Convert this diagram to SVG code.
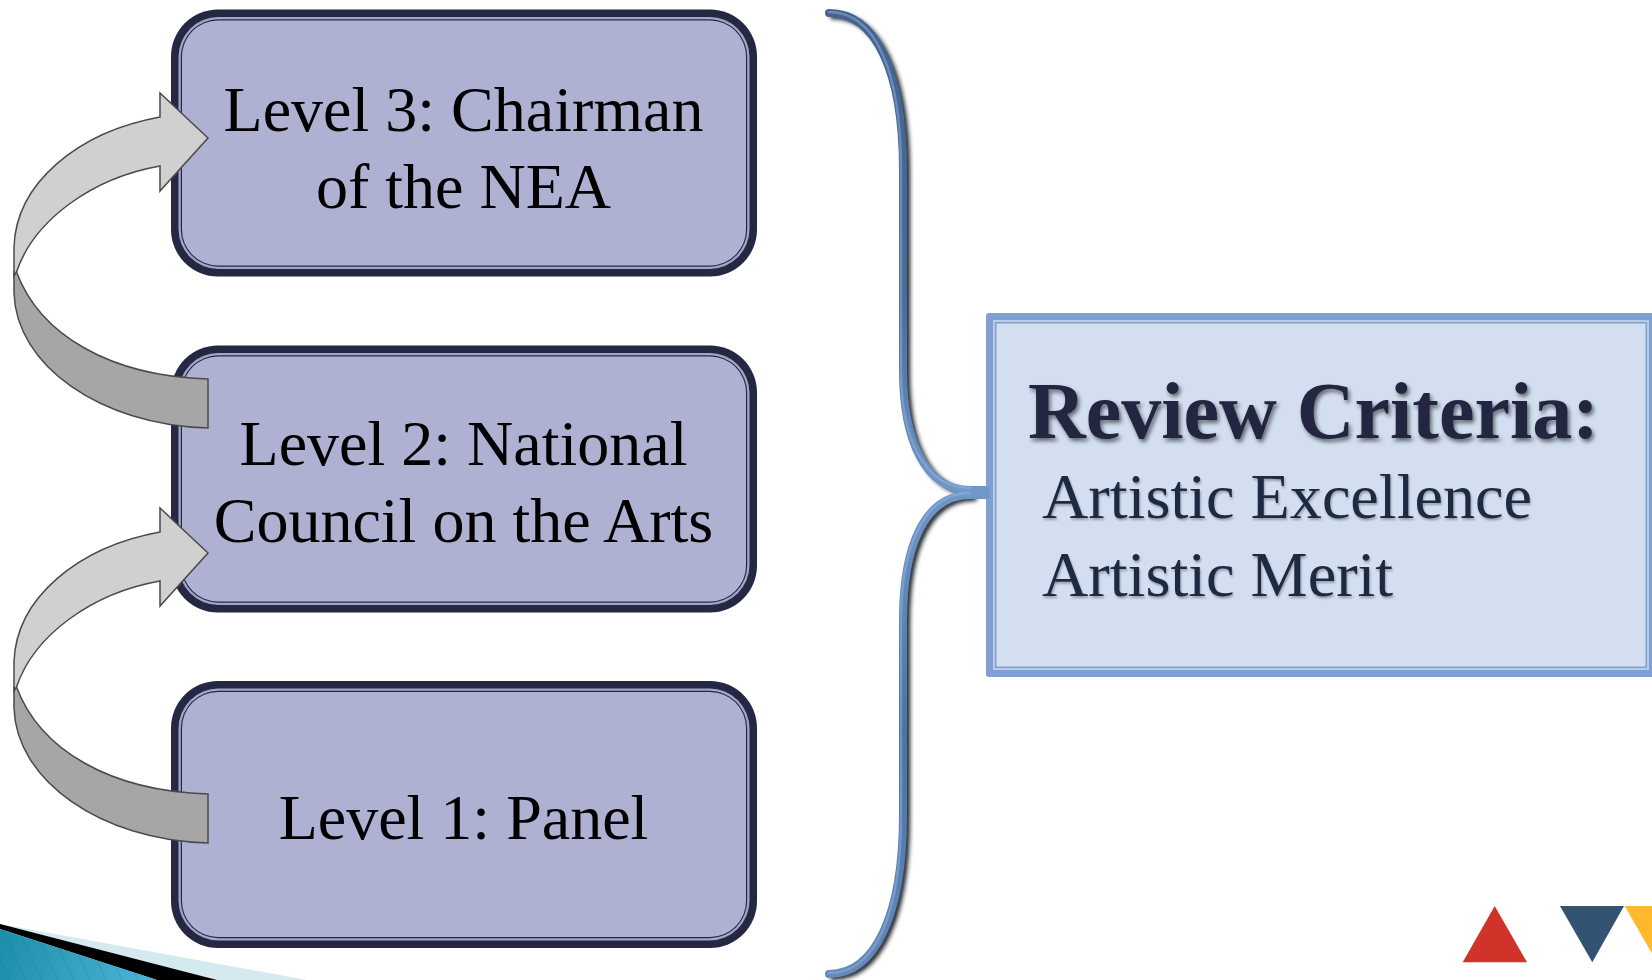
<svg xmlns="http://www.w3.org/2000/svg" width="1652" height="980" viewBox="0 0 1652 980">
<style>
text{font-family:"Liberation Serif","Times New Roman",serif;}
.lbl{font-size:64px;fill:#000;text-anchor:middle;}
.b0{fill:#262843;}
.b1{fill:#a3a6cc;}
.b2{fill:#262843;}
.b3{fill:#aeb1d1;}
.au{fill:#d0d0d0;stroke:#4a4a4a;stroke-width:1.5;}
.al{fill:#a6a6a6;stroke:#4a4a4a;stroke-width:1.5;}
.title{font-size:80px;font-weight:bold;fill:#24263f;filter:url(#ts);}
.crit{font-size:64.2px;fill:#1c2a42;filter:url(#ts2);}
.bs{fill:none;stroke:#141a24;stroke-width:6;filter:url(#bl);stroke-linecap:round;}
.bm{fill:none;stroke-width:8;stroke-linecap:round;}
.bh{fill:none;stroke-width:2.5;stroke-linecap:round;opacity:.45;}
</style>
<defs>
<filter id="ts" x="-5%" y="-20%" width="110%" height="140%"><feDropShadow dx="2" dy="3" stdDeviation="2" flood-color="#000" flood-opacity=".55"/></filter>
<filter id="ts2" x="-5%" y="-20%" width="110%" height="140%"><feDropShadow dx="1" dy="2" stdDeviation="1" flood-color="#000" flood-opacity=".3"/></filter>
<filter id="bl" x="-30%" y="-10%" width="160%" height="120%"><feGaussianBlur stdDeviation="2"/></filter>
<linearGradient id="gu" gradientUnits="userSpaceOnUse" x1="0" y1="10" x2="0" y2="492"><stop offset="0" stop-color="#42648f"/><stop offset=".6" stop-color="#476c9b"/><stop offset="1" stop-color="#6f97c9"/></linearGradient>
<linearGradient id="gd" gradientUnits="userSpaceOnUse" x1="0" y1="492" x2="0" y2="976"><stop offset="0" stop-color="#6f97c9"/><stop offset=".5" stop-color="#4a72a6"/><stop offset="1" stop-color="#6389bb"/></linearGradient>
<linearGradient id="teal" gradientUnits="userSpaceOnUse" x1="0" y1="940" x2="160" y2="980"><stop offset="0" stop-color="#1d8fa9"/><stop offset="1" stop-color="#4eb6da"/></linearGradient>
<pattern id="stripe" patternUnits="userSpaceOnUse" width="16" height="40" patternTransform="skewX(25)"><line x1="1" y1="0" x2="1" y2="40" stroke="#0f6f8c" stroke-width="1" opacity=".3"/></pattern>
</defs>
<rect width="1652" height="980" fill="#fff"/>
<g id="corner">
<polygon points="0,924 307,980 0,980" fill="#d5e9f1"/>
<polygon points="0,924 217,980 157,980 0,929" fill="#000"/>
<polygon points="0,929 157,980 0,980" fill="url(#teal)"/>
<polygon points="0,929 157,980 0,980" fill="url(#stripe)"/>
</g>
<g id="level3">
<rect class="b0" x="171" y="9.5" width="586" height="267" rx="47"/>
<rect class="b1" x="178.5" y="17" width="571" height="252" rx="40"/>
<rect class="b2" x="180.8" y="19.3" width="566.4" height="247.4" rx="37.5"/>
<rect class="b3" x="182" y="20.5" width="564" height="245" rx="36"/>
<text class="lbl" x="463.5" y="130.5">Level 3: Chairman</text>
<text class="lbl" x="463.5" y="207.5">of the NEA</text>
</g>
<g id="level2">
<rect class="b0" x="171" y="345.5" width="586" height="267" rx="47"/>
<rect class="b1" x="178.5" y="353" width="571" height="252" rx="40"/>
<rect class="b2" x="180.8" y="355.3" width="566.4" height="247.4" rx="37.5"/>
<rect class="b3" x="182" y="356.5" width="564" height="245" rx="36"/>
<text class="lbl" x="463.5" y="464.5">Level 2: National</text>
<text class="lbl" x="463.5" y="541.5">Council on the Arts</text>
</g>
<g id="level1">
<rect class="b0" x="171" y="681" width="586" height="267" rx="47"/>
<rect class="b1" x="178.5" y="688.5" width="571" height="252" rx="40"/>
<rect class="b2" x="180.8" y="690.8" width="566.4" height="247.4" rx="37.5"/>
<rect class="b3" x="182" y="692" width="564" height="245" rx="36"/>
<text class="lbl" x="463.5" y="838.5">Level 1: Panel</text>
</g>
<g id="criteria">
<rect x="986" y="313" width="670" height="364" rx="3" fill="#7f9fd0"/>
<rect x="993" y="320" width="656" height="350" fill="#b9cbe6"/>
<rect x="995" y="322" width="652" height="346" fill="#7f9fd0"/>
<rect x="996.5" y="323.5" width="649" height="343" fill="#d3dff0"/>
<text class="title" x="1028" y="438">Review Criteria:</text>
<text class="crit" x="1042" y="518">Artistic Excellence</text>
<text class="crit" x="1042" y="595.5">Artistic Merit</text>
</g>
<g id="connectors">
<g id="arrow-2-3">
<path class="al" d="M14,272 L14,293 C16,365 100,425 208,428 L208,379 C110,376 40,335 16.5,272 Z"/>
<path class="au" d="M14,276 L14,247 C16,183 78,132 160,117 L160,93 L208,138 L160,191 L160,166 C92,178 34,220 16.5,272 Z"/>
</g>
<g id="arrow-1-2">
<path class="al" d="M14,687 L14,708 C16,780 100,840 208,843 L208,794 C110,791 40,750 16.5,687 Z"/>
<path class="au" d="M14,691 L14,662 C16,598 78,547 160,532 L160,508 L208,553 L160,606 L160,581 C92,593 34,635 16.5,687 Z"/>
</g>
<g id="brace">
<path class="bs" transform="translate(4,3)" d="M829,13 C875,13 903,70 903,170 L903,370 C903,440 925,490 970,490"/>
<path class="bs" transform="translate(4,3)" d="M970,495 C925,495 903,545 903,620 L903,815 C903,915 875,974 829,974"/>
<path class="bm" stroke="url(#gu)" d="M829,13 C875,13 903,70 903,170 L903,370 C903,440 925,490 970,490 L986,490"/>
<path class="bm" stroke="url(#gd)" d="M986,495 L970,495 C925,495 903,545 903,620 L903,815 C903,915 875,974 829,974"/>
<path class="bh" stroke="#9db9e0" d="M829,12 C875,12 901,70 901,170 L901,370 C901,440 925,488 970,488"/>
<path class="bh" stroke="#9db9e0" d="M970,493 C925,493 901,545 901,620 L901,815 C901,915 875,973 829,973"/>
</g>
</g>
<g id="logo">
<polygon points="1494.7,906 1527,962.3 1462.7,962.3" fill="#cf3329"/>
<polygon points="1560,906 1624,906 1592.3,962.3" fill="#335372"/>
<polygon points="1624.7,906 1689,906 1657,962.3" fill="#fdb92b"/>
</g>
</svg>
